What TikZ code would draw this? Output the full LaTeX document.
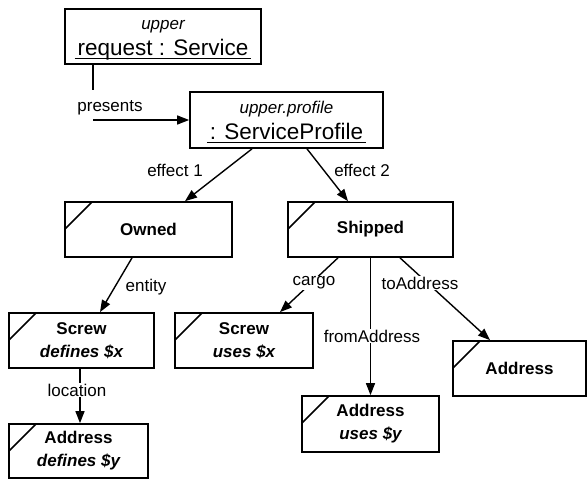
\documentclass[tikz,border=0pt]{standalone}
\usepackage{fontspec}
\setmainfont{Liberation Sans}
\usetikzlibrary{arrows.meta}
% underlined object name
\newcommand{\objline}[1]{\sbox0{\kern3pt#1\kern3pt}\rlap{\rule[-3.5pt]{\wd0}{1.1pt}}\usebox0}
\begin{document}
\begin{tikzpicture}[x=1pt, y=-1pt,
  obj/.style={draw, line width=1.7pt, inner sep=0pt, align=center, font=\fontsize{17}{23}\selectfont},
  top/.style={obj, font=\fontsize{17}{26}\selectfont},
  cls/.style={obj, path picture={\draw[line width=1.7pt] ([yshift=-27pt]path picture bounding box.north west) -- ([xshift=27pt]path picture bounding box.north west);}},
  lbl/.style={fill=white, inner sep=1pt, font=\fontsize{17}{20}\selectfont},
  arr/.style={-{Triangle[length=12pt,width=9pt]}, line width=1.4pt}]
\useasboundingbox (0,0) rectangle (587,479);
\node[top, minimum width=196pt, minimum height=55pt] (req) at (163,36.5) {\rule{0pt}{16pt}\itshape upper\\\fontsize{22.5}{26}\selectfont\objline{request : Service}};
\node[top, minimum width=193pt, minimum height=56pt] (prof) at (286.5,120) {\rule{0pt}{16pt}\itshape upper.profile\\\fontsize{22.5}{26}\selectfont\objline{: ServiceProfile}};
\node[cls, minimum width=167pt, minimum height=55pt] (owned) at (148.5,229.5) {\bfseries Owned};
\node[cls, minimum width=165pt, minimum height=55pt] (shipped) at (370.5,229.5) {\bfseries Shipped};
\node[cls, minimum width=145pt, minimum height=55pt] (screwdef) at (81.5,340.5) {\bfseries Screw\\\bfseries\itshape defines \$x};
\node[cls, minimum width=138pt, minimum height=55pt] (screwuse) at (244,340.5) {\bfseries Screw\\\bfseries\itshape uses \$x};
\node[cls, minimum width=139pt, minimum height=54pt] (addrdef) at (78.5,451) {\bfseries Address\\\bfseries\itshape defines \$y};
\node[cls, minimum width=137pt, minimum height=56pt] (addruse) at (370.5,424) {\bfseries Address\\\bfseries\itshape uses \$y};
\node[cls, minimum width=133pt, minimum height=55pt] (addrto) at (519.5,368.5) {\bfseries Address};
% presents
\node[lbl] (presents) at (110,108) {presents};
\coordinate (pres1) at (93,90);
\coordinate (pres2) at (93,120);
\draw[line width=1.4pt] (req.south -| pres1) -- (pres1);
\path[arr] (pres2) edge (prof.west);
% effects
\path[arr] ([xshift=-34.5pt]prof.south) edge ([xshift=36.5pt]owned.north);
\path[arr] ([xshift=20.5pt]prof.south) edge ([xshift=-22.5pt]shipped.north);
\node[lbl] (eff1) at (175,170) {effect 1};
\node[lbl] (eff2) at (362,170) {effect 2};
% roles
\path[arr] ([xshift=-16.5pt]owned.south) edge ([xshift=18.5pt]screwdef.north);
\node[lbl] (entity) at (146,287) {entity};
\path[arr] ([xshift=-1.5pt]screwdef.south) edge ([xshift=1.5pt]addrdef.north);
\node[lbl] (location) at (77,390) {location};
\path[arr] ([xshift=-32.5pt]shipped.south) edge ([xshift=36pt]screwuse.north);
\node[lbl] (cargo) at (314,283) {cargo};
\path[arr] (shipped.south) edge (addruse.north);
\node[lbl] (from) at (372,336) {fromAddress};
\path[arr] ([xshift=29.5pt]shipped.south) edge ([xshift=-29.5pt]addrto.north);
\node[lbl] (to) at (420,283) {toAddress};
\end{tikzpicture}
\end{document}
